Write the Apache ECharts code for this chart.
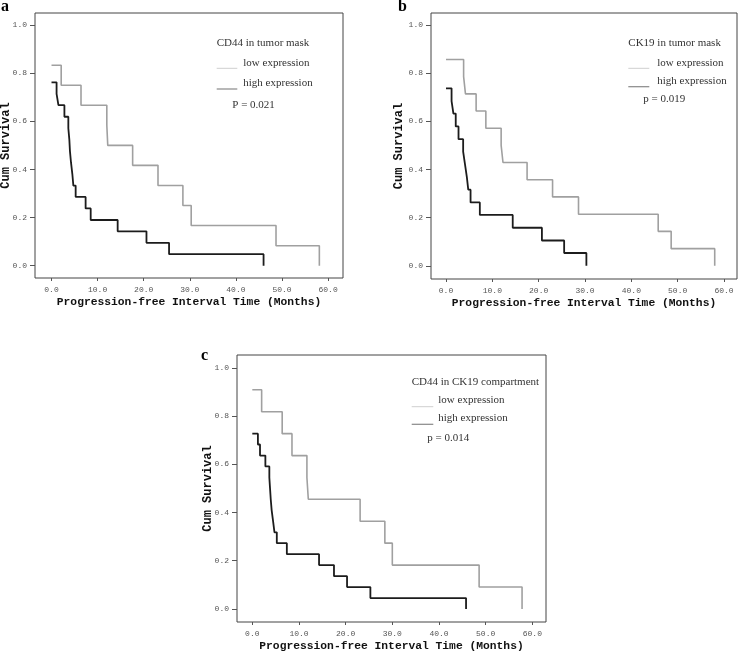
<!DOCTYPE html>
<html><head><meta charset="utf-8">
<script src="https://cdn.jsdelivr.net/npm/echarts@6/dist/echarts.min.js"></script>
<style>html,body{margin:0;padding:0;background:#fff}#c{width:741px;height:654px}</style>
</head><body><div id="c"></div>
<script>
// Panel a: CD44 in tumor mask
const aLowT  = [0, 2.1, 6.4, 12.0, 12.2, 17.6, 23.1, 28.5, 30.3, 48.7, 58.1];
const aLowS  = [0.833, 0.75, 0.667, 0.583, 0.5, 0.417, 0.333, 0.25, 0.167, 0.083, 0];
const aHighT = [0, 1.1, 1.5, 2.8, 3.65, 3.87, 4.0, 4.23, 4.52, 4.74, 5.24, 7.4, 8.5, 14.35, 20.6, 25.5, 46.0];
const aHighS = [0.762, 0.714, 0.667, 0.619, 0.571, 0.524, 0.476, 0.429, 0.381, 0.333, 0.286, 0.238, 0.190, 0.143, 0.095, 0.048, 0];
// Panel b: CK19 in tumor mask
const bLowT  = [0, 3.8, 4.2, 6.5, 8.6, 11.9, 12.3, 17.5, 23.0, 28.6, 45.8, 48.6, 58.0];
const bLowS  = [0.857, 0.786, 0.714, 0.643, 0.571, 0.5, 0.429, 0.357, 0.286, 0.214, 0.143, 0.071, 0];
const bHighT = [0, 1.2, 1.6, 2.1, 2.7, 3.7, 4.1, 4.5, 4.8, 5.3, 7.3, 14.4, 20.7, 25.5, 30.3];
const bHighS = [0.737, 0.684, 0.632, 0.579, 0.526, 0.474, 0.421, 0.368, 0.316, 0.263, 0.211, 0.158, 0.105, 0.053, 0];
// Panel c: CD44 in CK19 compartment
const cLowT  = [0, 2.0, 6.4, 8.5, 11.7, 12.0, 23.1, 28.4, 30.0, 48.6, 57.8];
const cLowS  = [0.909, 0.818, 0.727, 0.636, 0.545, 0.455, 0.364, 0.273, 0.182, 0.091, 0];
const cHighT = [0, 1.2, 1.65, 2.8, 3.65, 3.8, 3.95, 4.15, 4.45, 4.75, 5.25, 7.4, 14.3, 17.5, 20.3, 25.3, 45.8];
const cHighS = [0.727, 0.682, 0.636, 0.591, 0.545, 0.5, 0.455, 0.409, 0.364, 0.318, 0.273, 0.227, 0.182, 0.136, 0.091, 0.045, 0];

const xTicks = [0, 10, 20, 30, 40, 50, 60];
const yTicks = [0, 0.2, 0.4, 0.6, 0.8, 1.0];
const panelLetters = ['a', 'b', 'c'];
const legendTitles = ['CD44 in tumor mask', 'CK19 in tumor mask', 'CD44 in CK19 compartment'];
const legendLabels = ['low expression', 'high expression'];
const pTexts = ['P = 0.021', 'p = 0.019', 'p = 0.014'];
const xTitle = 'Progression-free Interval Time (Months)';
const yTitle = 'Cum Survival';

const grids = [
  {left: 35, top: 13, width: 308, height: 265},
  {left: 431, top: 13, width: 306, height: 266},
  {left: 237, top: 355, width: 309, height: 267}
];
const xr = [[-3.58, 63.23], [-3.24, 62.81], [-3.28, 62.93]];
const yr = [[-0.051, 1.05], [-0.055, 1.05], [-0.054, 1.053]];
const yNameGaps = [23, 26, 23];

const mono = '"Liberation Mono","DejaVu Sans Mono",monospace';
const serif = '"Liberation Serif","DejaVu Serif",serif';

const option = {
  animation: false,
  backgroundColor: '#fff',
  grid: grids.map(g => Object.assign({show: true, borderColor: '#444', borderWidth: 1, backgroundColor: 'transparent',
    containLabel: false, outerBoundsMode: 'none'}, g)),
  xAxis: grids.map((g, i) => ({
    type: 'value', gridIndex: i, min: xr[i][0], max: xr[i][1], position: 'bottom',
    axisLine: {show: false, onZero: false},
    splitLine: {show: false},
    axisTick: {show: true, length: 3, customValues: xTicks, lineStyle: {color: '#555'}},
    axisLabel: {customValues: xTicks, formatter: v => v.toFixed(1), fontSize: 8, fontFamily: mono, color: '#555', margin: 8},
    name: xTitle, nameLocation: 'middle', nameGap: 19, nameMoveOverlap: false,
    nameTextStyle: {fontFamily: mono, fontWeight: 'bold', fontSize: 11.3, color: '#111'}
  })),
  yAxis: grids.map((g, i) => ({
    type: 'value', gridIndex: i, min: yr[i][0], max: yr[i][1], position: 'left',
    axisLine: {show: false, onZero: false},
    splitLine: {show: false},
    axisTick: {show: true, length: 5, customValues: yTicks, lineStyle: {color: '#555'}},
    axisLabel: {customValues: yTicks, formatter: v => v.toFixed(1), fontSize: 8, fontFamily: mono, color: '#555', margin: 8},
    name: yTitle, nameLocation: 'middle', nameGap: yNameGaps[i], nameMoveOverlap: false,
    nameTextStyle: {fontFamily: mono, fontWeight: 'bold', fontSize: 12, color: '#111'}
  })),
  series: []
};

const sets = [[aLowT, aLowS, aHighT, aHighS], [bLowT, bLowS, bHighT, bHighS], [cLowT, cLowS, cHighT, cHighS]];
sets.forEach((s, i) => {
  option.series.push({type: 'line', xAxisIndex: i, yAxisIndex: i, step: 'end', showSymbol: false, silent: true,
    data: s[0].map((t, k) => [t, s[1][k]]), lineStyle: {color: '#a0a0a0', width: 1.6}});
  option.series.push({type: 'line', xAxisIndex: i, yAxisIndex: i, step: 'end', showSymbol: false, silent: true,
    data: s[2].map((t, k) => [t, s[3][k]]), lineStyle: {color: '#1c1c1c', width: 1.8}});
});

// annotation layout (pixel positions)
const ann = [
  {letter: [1, 7], title: [216.7, 43.3], line: [216.7, 237.3], lowY: 68.3, highY: 89, textX: 243.3, lowT: 62.7, highT: 83.3, p: [232.3, 105]},
  {letter: [398, 7], title: [628.3, 43.3], line: [628.3, 649.3], lowY: 68.3, highY: 86.7, textX: 657.3, lowT: 62.7, highT: 81, p: [643.3, 99.3]},
  {letter: [201, 356], title: [411.7, 381.7], line: [411.7, 433.3], lowY: 406.7, highY: 424.3, textX: 438.3, lowT: 400, highT: 418.3, p: [427.3, 437.7]}
];
const graphics = [];
ann.forEach((a, i) => {
  graphics.push({type: 'text', x: a.letter[0], y: a.letter[1], silent: true,
    style: {text: panelLetters[i], font: 'bold 16px ' + serif, fill: '#000', verticalAlign: 'middle', align: 'left'}});
  graphics.push({type: 'text', x: a.title[0], y: a.title[1], silent: true,
    style: {text: legendTitles[i], font: '11px ' + serif, fill: '#333', verticalAlign: 'middle', align: 'left'}});
  graphics.push({type: 'line', silent: true, shape: {x1: a.line[0], y1: a.lowY, x2: a.line[1], y2: a.lowY},
    style: {stroke: '#cfcfcf', lineWidth: 1}});
  graphics.push({type: 'line', silent: true, shape: {x1: a.line[0], y1: a.highY, x2: a.line[1], y2: a.highY},
    style: {stroke: '#888', lineWidth: 1.2}});
  graphics.push({type: 'text', x: a.textX, y: a.lowT, silent: true,
    style: {text: legendLabels[0], font: '11px ' + serif, fill: '#333', verticalAlign: 'middle', align: 'left'}});
  graphics.push({type: 'text', x: a.textX, y: a.highT, silent: true,
    style: {text: legendLabels[1], font: '11px ' + serif, fill: '#333', verticalAlign: 'middle', align: 'left'}});
  graphics.push({type: 'text', x: a.p[0], y: a.p[1], silent: true,
    style: {text: pTexts[i], font: '11px ' + serif, fill: '#333', verticalAlign: 'middle', align: 'left'}});
});
option.graphic = graphics;

const chart = echarts.init(document.getElementById('c'), null, {renderer: 'canvas'});
chart.setOption(option);
</script>
</body></html>
